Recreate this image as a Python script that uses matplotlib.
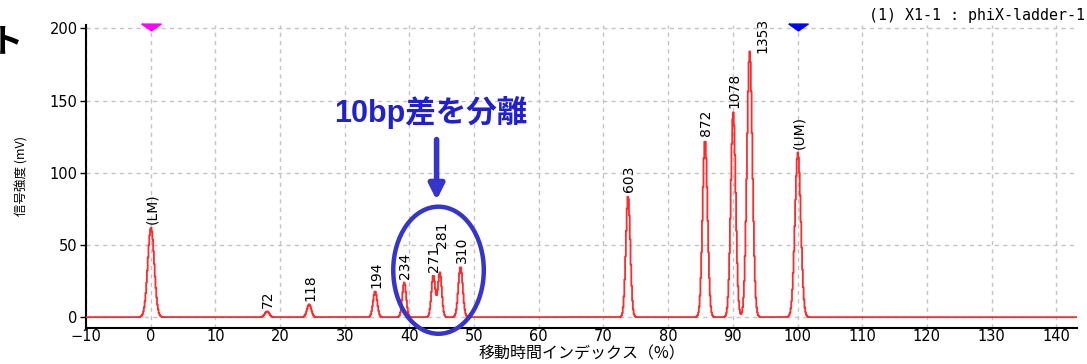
import numpy as np
import matplotlib
matplotlib.use("Agg")
import matplotlib.pyplot as plt
from matplotlib.patches import Ellipse

plt.rcParams.update({
    "font.family": ["DejaVu Sans", "Noto Sans CJK JP"],
    "font.size": 10,
})

# Peak table (migration index %, signal mV)
peak_labels = ["(LM)", "72", "118", "194", "234", "271", "281", "310",
               "603", "872", "1078", "1353", "(UM)"]
peak_pos = [0.05, 18.0, 24.5, 34.7, 39.2, 43.7, 44.7, 47.9,
            73.8, 85.7, 90.06, 92.6, 100.05]
peak_height = [62, 4, 9, 18, 24, 29, 31, 35, 84, 123, 142, 184, 114]
peak_sigma = [0.5, 0.35, 0.33, 0.32, 0.3, 0.3, 0.3, 0.34,
              0.34, 0.38, 0.38, 0.42, 0.45]

x_ticks = [-10, 0, 10, 20, 30, 40, 50, 60, 70, 80, 90, 100, 110, 120, 130, 140]
y_ticks = [0, 50, 100, 150, 200]

sample_name = "(1) X1-1 : phiX-ladder-1"
x_title = "移動時間インデックス（%）"
y_title = "信号強度 (mV)"
note = "10bp差を分離"

# trace sampled like the instrument (fine steps)
x = np.arange(-10, 143.5, 0.12)
y = np.zeros_like(x)
for p, h, s in zip(peak_pos, peak_height, peak_sigma):
    y += h * np.exp(-0.5 * ((x - p) / s) ** 2)

fig = plt.figure(figsize=(10.87, 3.64), dpi=100)
ax = fig.add_axes([0.0791, 0.0997, 0.9117, 0.8316])

ax.plot(x, y, color="#ff2a2a", linewidth=1.3, drawstyle="steps-mid", zorder=3)

ax.set_xlim(-9.8, 143.2)
ax.set_ylim(-7.3, 202.3)
ax.set_xticks(x_ticks)
ax.set_yticks(y_ticks)
ax.grid(True, color="#c4c4c4", linestyle=(0, (3, 3)), linewidth=1.0)
ax.set_axisbelow(True)
for side in ["top", "right"]:
    ax.spines[side].set_visible(False)
for side in ["left", "bottom"]:
    ax.spines[side].set_linewidth(1.5)
ax.tick_params(axis="x", length=0, pad=1, labelsize=10.5)
ax.tick_params(axis="y", length=4, width=1, pad=2, labelsize=10.5)

# peak size labels, rotated; a couple are nudged to avoid clashes
nudge = {"281": (0.4, 17), "1353": (2.0, -1)}
for lab, p, h in zip(peak_labels, peak_pos, peak_height):
    dx, dy = nudge.get(lab, (0.15, 2.5))
    ax.text(p + dx, h + dy, lab, rotation=90, ha="center", va="bottom",
            fontsize=10, family=["Liberation Sans Narrow", "DejaVu Sans"],
            zorder=4)

# marker triangles for lower / upper markers
tri = [(-1, 0.35), (1, 0.35), (0, -0.35), (-1, 0.35)]
ax.plot([0], [201], marker=tri, color="#ff00ff", markersize=14,
        clip_on=False, zorder=5, linestyle="none")
ax.plot([100], [201], marker=tri, color="#0000ff", markersize=14,
        clip_on=False, zorder=5, linestyle="none")

ax.set_xlabel(x_title, fontsize=11.5, labelpad=1,
              family=["Noto Sans CJK JP"])
ax.set_ylabel(y_title, fontsize=9, labelpad=15,
              family=["Noto Sans CJK JP", "DejaVu Sans"])

fig.text(0.799, 0.958, sample_name, fontsize=10.8, family="DejaVu Sans Mono",
         ha="left", va="center")

# clipped slide title character at the left edge
fig.text(-0.009, 0.885, "ト", fontsize=24, fontweight="bold",
         family=["Noto Sans CJK JP"], ha="left", va="center")

# annotation: ellipse, arrow and note
blue = "#3535cc"
ax.add_patch(Ellipse((44.5, 32.5), 14.0, 88.0, fill=False, edgecolor=blue,
                     linewidth=3.2, clip_on=False, zorder=6))
ax.annotate("", xy=(44.2, 81), xytext=(44.2, 123),
            arrowprops=dict(arrowstyle="-|>,head_width=0.45,head_length=0.9",
                            color=blue, linewidth=4, shrinkA=0, shrinkB=0),
            zorder=6)
ax.text(43.3, 142, note, ha="center", va="center", fontsize=22,
        fontweight="bold", color="#2020d0",
        family=["Liberation Sans", "Noto Sans CJK JP"], zorder=6)

fig.savefig("out.png", dpi=100)
